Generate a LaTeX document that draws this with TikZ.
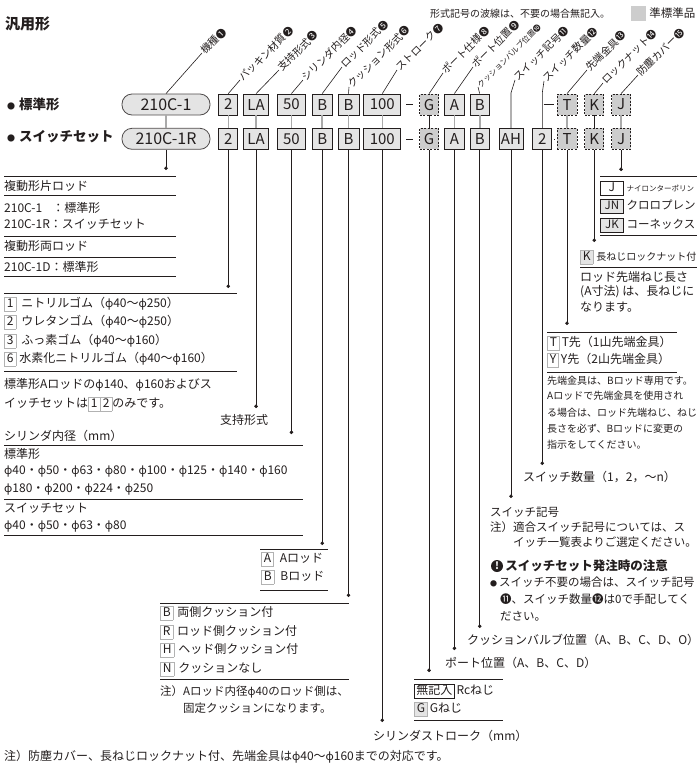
\documentclass[tikz,border=0pt]{standalone}
\usepackage{fontspec}
\setmainfont{Noto Sans CJK JP}
\newfontfamily\phifont{Noto Sans}[Scale=0.95]
\definecolor{InkColor}{RGB}{35,30,30}
\definecolor{BoxFill}{RGB}{228,228,228}
\definecolor{SemiFill}{RGB}{205,205,205}
\definecolor{LinkGray}{RGB}{170,170,170}
\usetikzlibrary{positioning, arrows.meta}
\newcommand\fsz[1]{\fontsize{#1}{#1}\selectfont}
\newcommand\dia{{\phifont φ}}
\setlength\fboxsep{0.6pt}
\setlength\fboxrule{0.6pt}
\newcommand\kbox[1]{\fcolorbox{gray!60}{white}{\vrule width0pt height10pt depth2.5pt\hspace{1.5pt}#1\hspace{1.5pt}}}
\newcommand\kboxg[1]{\fcolorbox{gray!60}{BoxFill}{\vrule width0pt height10pt depth2.5pt\hspace{1.5pt}#1\hspace{1.5pt}}}
\newcommand\jbox[2]{\fcolorbox{InkColor}{#1}{\vrule width0pt height10pt depth2.5pt\makebox[21pt]{#2}}}

\begin{document}
\begin{tikzpicture}[x=1pt, y=-1pt, node distance=5pt,
  codebox/.style={draw=InkColor, fill=BoxFill, line width=0.8pt, minimum height=21pt, inner sep=0pt, text=InkColor, font=\fsz{15}},
  semibox/.style={codebox, fill=SemiFill, dash pattern=on 2pt off 1.5pt},
  pillbox/.style={codebox, draw=InkColor!80, rounded corners=10pt, minimum width=88pt, font=\fsz{16}},
  headlbl/.style={rotate=45, anchor=west, inner sep=1pt, text=InkColor, font=\fsz{10.3}},
  rowlbl/.style={anchor=west, inner sep=0pt, text=InkColor, font=\bfseries\fsz{13.5}},
  leader/.style={draw=InkColor, line width=0.6pt},
  link/.style={draw=LinkGray, line width=1.6pt},
  darklink/.style={draw=InkColor, line width=0.8pt},
  drop/.style={draw=InkColor, line width=0.7pt, -{Circle[length=3.5pt]}},
  desc/.style={anchor=west, inner sep=0pt, text=InkColor, font=\fsz{12}},
  rule/.style={draw=InkColor, line width=0.6pt}]
\useasboundingbox (0,0) rectangle (700,780);

% heading and legend
\node[desc, font=\bfseries\fsz{15}] (title) at (5,24) {汎用形};
\node[desc, font=\fsz{10}] (legnote) at (430,14) {形式記号の波線は、不要の場合無記入。};
\node[fill=SemiFill, minimum size=15pt, inner sep=0pt] (legsq) at (638.5,13) {};
\node[desc, font=\fsz{11.5}, right=3pt of legsq] (legtxt) {準標準品};
\node[rowlbl] (rowstd) at (7,104) {{\fsz{8}●}\hspace{4pt}標準形};
\node[rowlbl] (rowsw) at (7,137) {{\fsz{8}●}\hspace{4pt}スイッチセット};

% row 1
\node[pillbox] (r1type) at (166,104.5) {210C-1};
\node[codebox, minimum width=19pt, right=8pt of r1type] (r1pack) {2};
\node[codebox, minimum width=25pt, right=5pt of r1pack] (r1mount) {LA};
\node[codebox, minimum width=28pt, right=8pt of r1mount] (r1bore) {50};
\node[codebox, minimum width=20pt, right=6pt of r1bore] (r1rod) {B};
\node[codebox, minimum width=21pt, right=5pt of r1rod] (r1cush) {B};
\node[codebox, minimum width=37pt, right=4pt of r1cush] (r1stroke) {100};
\node[semibox, minimum width=19pt, right=18pt of r1stroke] (r1port) {G};
\node[codebox, minimum width=20pt, right=5pt of r1port] (r1ppos) {A};
\node[codebox, minimum width=19pt, right=5pt of r1ppos] (r1valve) {B};
\node[semibox, minimum width=20pt] (r1tip) at (567,104.5) {T};
\node[semibox, minimum width=19pt, right=7pt of r1tip] (r1nut) {K};
\node[semibox, minimum width=19pt, right=7pt of r1nut] (r1cover) {J};

% row 2
\node[pillbox, below=12.5pt of r1type] (r2type) {210C-1R};
\node[codebox, minimum width=19pt, below=12.5pt of r1pack] (r2pack) {2};
\node[codebox, minimum width=25pt, below=12.5pt of r1mount] (r2mount) {LA};
\node[codebox, minimum width=28pt, below=12.5pt of r1bore] (r2bore) {50};
\node[codebox, minimum width=20pt, below=12.5pt of r1rod] (r2rod) {B};
\node[codebox, minimum width=21pt, below=12.5pt of r1cush] (r2cush) {B};
\node[codebox, minimum width=37pt, below=12.5pt of r1stroke] (r2stroke) {100};
\node[semibox, minimum width=19pt, below=12.5pt of r1port] (r2port) {G};
\node[codebox, minimum width=20pt, below=12.5pt of r1ppos] (r2ppos) {A};
\node[codebox, minimum width=19pt, below=12.5pt of r1valve] (r2valve) {B};
\node[codebox, minimum width=24pt, right=9pt of r2valve] (r2sw) {AH};
\node[codebox, minimum width=19pt, right=9pt of r2sw] (r2qty) {2};
\node[semibox, minimum width=20pt, below=12.5pt of r1tip] (r2tip) {T};
\node[semibox, minimum width=19pt, below=12.5pt of r1nut] (r2nut) {K};
\node[semibox, minimum width=19pt, below=12.5pt of r1cover] (r2cover) {J};

% links between the two rows
\draw[link] (r1type.south) -- (r2type.north);
\draw[link] (r1pack.south) -- (r2pack.north);
\draw[link] (r1mount.south) -- (r2mount.north);
\draw[link] (r1bore.south) -- (r2bore.north);
\draw[link] (r1rod.south) -- (r2rod.north);
\draw[link] (r1cush.south) -- (r2cush.north);
\draw[link] (r1stroke.south) -- (r2stroke.north);
\draw[darklink] (r1port.south) -- (r2port.north);
\draw[link] (r1ppos.south) -- (r2ppos.north);
\draw[link] (r1valve.south) -- (r2valve.north);
\draw[link] (r1tip.south) -- (r2tip.north);
\draw[darklink] (r1nut.south) -- (r2nut.north);
\draw[link] (r1cover.south) -- (r2cover.north);

% short dashes
\draw[leader, shorten <=5pt, shorten >=6pt] (r1stroke) -- (r1port);
\draw[leader, shorten <=5pt, shorten >=6pt] (r2stroke) -- (r2port);
\coordinate (tipstub) at ([xshift=-13pt]r1tip.west);
\draw[leader, shorten >=3pt] (tipstub) -- (r1tip);
\draw[leader, shorten <=2pt, shorten >=3pt] (r2qty) -- (r2tip);

% slanted headings
\node[headlbl] (htype) at (202,53) {機種❶};
\node[headlbl] (hpack) at (240,80) {パッキン材質❷};
\node[headlbl] (hmount) at (279,70) {支持形式❸};
\node[headlbl] (hbore) at (303,80) {シリンダ内径❹};
\node[headlbl] (hrod) at (342,67) {ロッド形式❺};
\node[headlbl] (hcush) at (349,87) {クッション形式❻};
\node[headlbl] (hstroke) at (397,70) {ストローク❼};
\node[headlbl] (hport) at (443,73) {ポート仕様❽};
\node[headlbl] (hppos) at (473,67) {ポート位置❾};
\node[headlbl, font=\fsz{7.8}] (hvalve) at (478,87) {クッションバルブ位置❿};
\node[headlbl] (hsw) at (515,80) {スイッチ記号⓫};
\node[headlbl] (hqty) at (544,81) {スイッチ数量⓬};
\node[headlbl] (htip) at (587,70) {先端金具⓭};
\node[headlbl] (hnut) at (603,83) {ロックナット⓮};
\node[headlbl] (hcover) at (638,75) {防塵カバー⓯};

\draw[leader] (r1type.north) -- (htype.west);
\draw[leader] (r1pack.north) -- (hpack.west);
\draw[leader] (r1mount.north) -- (hmount.west);
\draw[leader] (r1bore.north) -- (hbore.west);
\draw[leader] (r1rod.north) -- (hrod.west);
\draw[leader] (r1cush.north) -- (hcush.west);
\draw[leader] (r1stroke.north) -- (hstroke.west);
\draw[leader] (r1port.north) -- (hport.west);
\draw[leader] (r1ppos.north) -- (hppos.west);
\draw[leader] (r1valve.north) -- (hvalve.west);
\draw[leader] (r2sw.north) -- ++(0,-35) -- (hsw.west);
\draw[leader] (r2qty.north) -- ++(0,-35) -- (hqty.west);
\draw[leader] (r1tip.north) -- (htip.west);
\draw[leader] (r1nut.north) -- (hnut.west);
\draw[leader] (r1cover.north) -- (hcover.west);

% drop lines to the explanations
\coordinate (dtype) at (r2type.south |- 0,170);
\coordinate (dpack) at (r2pack.south |- 0,288);
\coordinate (dmount) at (r2mount.south |- 0,408);
\coordinate (dbore) at (r2bore.south |- 0,434);
\coordinate (drod) at (r2rod.south |- 0,545);
\coordinate (dcush) at (r2cush.south |- 0,597);
\coordinate (dstroke) at (r2stroke.south |- 0,722);
\coordinate (dport) at (r2port.south |- 0,672);
\coordinate (dppos) at (r2ppos.south |- 0,650);
\coordinate (dvalve) at (r2valve.south |- 0,628);
\coordinate (dsw) at (r2sw.south |- 0,498);
\coordinate (dqty) at (r2qty.south |- 0,465);
\coordinate (dtip) at (r2tip.south |- 0,325);
\coordinate (dnut) at (r2nut.south |- 0,242);
\coordinate (dcover) at (r2cover.south |- 0,171);
\draw[drop] (r2type.south) -- (dtype);
\draw[drop] (r2pack.south) -- (dpack);
\draw[drop] (r2mount.south) -- (dmount);
\draw[drop] (r2bore.south) -- (dbore);
\draw[drop] (r2rod.south) -- (drod);
\draw[drop] (r2cush.south) -- (dcush);
\draw[drop] (r2stroke.south) -- (dstroke);
\draw[drop] (r2port.south) -- (dport);
\draw[drop] (r2ppos.south) -- (dppos);
\draw[drop] (r2valve.south) -- (dvalve);
\draw[drop] (r2sw.south) -- (dsw);
\draw[drop] (r2qty.south) -- (dqty);
\draw[drop] (r2tip.south) -- (dtip);
\draw[drop] (r2nut.south) -- (dnut);
\draw[drop] (r2cover.south) -- (dcover);

% model
\draw[rule] (4,176) -- (176,176);
\node[desc] (tyh1) at (4,186) {複動形片ロッド};
\draw[rule] (4,195) -- (176,195);
\node[desc] (ty1) at (4,208) {210C-1\hspace{10pt}：標準形};
\node[desc] (ty2) at (4,224) {210C-1R：スイッチセット};
\draw[rule] (4,236) -- (176,236);
\node[desc] (tyh2) at (4,246) {複動形両ロッド};
\draw[rule] (4,257) -- (176,257);
\node[desc] (ty3) at (4,267) {210C-1D：標準形};
\draw[rule] (4,276) -- (176,276);

% packing
\draw[rule] (4,293) -- (237,293);
\node[desc] (pk1) at (4,304) {\kbox{1}\hspace{5pt}ニトリルゴム（\dia40〜\dia250）};
\node[desc] (pk2) at (4,322) {\kbox{2}\hspace{5pt}ウレタンゴム（\dia40〜\dia250）};
\node[desc] (pk3) at (4,341) {\kbox{3}\hspace{5pt}ふっ素ゴム（\dia40〜\dia160）};
\node[desc] (pk6) at (4,359) {\kbox{6}\hspace{3pt}水素化ニトリルゴム（\dia40〜\dia160）};
\draw[rule] (4,371) -- (237,371);
\node[desc] (pkn1) at (4,385) {標準形Aロッドの\dia140、\dia160およびス};
\node[desc] (pkn2) at (4,404) {イッチセットは\kbox{1}\kbox{2}のみです。};

% mounting
\node[desc, anchor=center] (mnt) at (244,420) {支持形式};

% bore
\node[desc] (boh) at (4,436) {シリンダ内径（mm）};
\draw[rule] (4,445) -- (303,445);
\node[desc] (bo1) at (4,454) {標準形};
\node[desc] (bo2) at (4,472) {\dia40・\dia50・\dia63・\dia80・\dia100・\dia125・\dia140・\dia160};
\node[desc] (bo3) at (4,490) {\dia180・\dia200・\dia224・\dia250};
\draw[rule] (4,499) -- (303,499);
\node[desc] (bo4) at (4,508) {スイッチセット};
\node[desc] (bo5) at (4,527) {\dia40・\dia50・\dia63・\dia80};
\draw[rule] (4,535) -- (303,535);

% rod
\draw[rule] (260,549) -- (328,549);
\node[desc] (rd1) at (261,559) {\kbox{A}\hspace{6pt}Aロッド};
\node[desc] (rd2) at (261,577) {\kbox{B}\hspace{6pt}Bロッド};
\draw[rule] (260,590) -- (328,590);

% cushion
\draw[rule] (160,603) -- (349,603);
\node[desc] (cu1) at (160,613) {\kbox{B}\hspace{4pt}両側クッション付};
\node[desc] (cu2) at (160,632) {\kbox{R}\hspace{4pt}ロッド側クッション付};
\node[desc] (cu3) at (160,650) {\kbox{H}\hspace{4pt}ヘッド側クッション付};
\node[desc] (cu4) at (160,669) {\kbox{N}\hspace{4pt}クッションなし};
\draw[rule] (160,679) -- (349,679);
\node[desc, font=\fsz{11.5}] (cun1) at (160,692) {注）Aロッド内径\dia40のロッド側は、};
\node[desc, font=\fsz{11.5}] (cun2) at (183,708) {固定クッションになります。};

% stroke and footnote
\node[desc] (stk) at (373,736) {シリンダストローク（mm）};
\node[desc] (foot) at (4,757) {注）防塵カバー、長ねじロックナット付、先端金具は\dia40〜\dia160までの対応です。};

% port
\draw[rule] (414,679) -- (503,679);
\node[desc] (pt1) at (414,691) {\fcolorbox{InkColor}{white}{\vrule width0pt height10pt depth2.5pt\hspace{1pt}無記入\hspace{1pt}}\hspace{2pt}Rcねじ};
\node[desc] (pt2) at (414,709) {\kboxg{G}\hspace{2pt}Gねじ};
\draw[rule] (414,720) -- (503,720);
\node[desc] (pp) at (445,663) {ポート位置（A、B、C、D）};
\node[desc] (vv) at (467,640) {クッションバルブ位置（A、B、C、D、O）};

% switch
\node[desc, font=\fsz{11.5}] (sw1) at (490,512) {スイッチ記号};
\node[desc, font=\fsz{11.5}] (sw2) at (490,527) {注）適合スイッチ記号については、ス};
\node[desc, font=\fsz{11.5}] (sw3) at (513,542) {イッチ一覧表よりご選定ください。};
\node[circle, fill=InkColor, text=white, inner sep=0pt, minimum size=12pt, font=\bfseries\fsz{10}] (warn) at (497,566) {!};
\node[desc, font=\bfseries\fsz{12.5}, right=2pt of warn] (warnh) {スイッチセット発注時の注意};
\node[desc, font=\fsz{11.5}] (wn1) at (490,582) {{\fsz{7}●}\hspace{2pt}スイッチ不要の場合は、スイッチ記号};
\node[desc, font=\fsz{11.5}] (wn2) at (500,599) {⓫、スイッチ数量⓬は0で手配してく};
\node[desc, font=\fsz{11.5}] (wn3) at (500,616) {ださい。};
\node[desc] (qt) at (523,477) {スイッチ数量（1，2，〜n）};

% rod end
\draw[rule] (547,332) -- (677,332);
\node[desc] (tp1) at (547,343) {\kbox{T}\hspace{2pt}T先（1山先端金具）};
\node[desc] (tp2) at (547,360) {\kbox{Y}\hspace{2pt}Y先（2山先端金具）};
\draw[rule] (547,372) -- (677,372);
\node[desc, font=\fsz{10}] (tpn1) at (547,381) {先端金具は、Bロッド専用です。};
\node[desc, font=\fsz{10}] (tpn2) at (547,396) {Aロッドで先端金具を使用され};
\node[desc, font=\fsz{10}] (tpn3) at (547,413) {る場合は、ロッド先端ねじ、ねじ};
\node[desc, font=\fsz{10}] (tpn4) at (547,429) {長さを必ず、Bロッドに変更の};
\node[desc, font=\fsz{10}] (tpn5) at (547,445) {指示をしてください。};

% lock nut
\node[desc] (nt1) at (580,257) {\kboxg{K}\hspace{3pt}{\fsz{10}長ねじロックナット付}};
\draw[rule] (580,267) -- (697,267);
\node[desc] (ntn1) at (580,277) {ロッド先端ねじ長さ};
\node[desc] (ntn2) at (580,292) {(A寸法) は、長ねじに};
\node[desc] (ntn3) at (580,307) {なります。};

% cover
\draw[rule] (600,176) -- (697,176);
\node[desc] (cv1) at (600,188) {\jbox{white}{J}\hspace{3pt}{\fsz{7.5}ナイロンターポリン}};
\node[desc, font=\fsz{11.5}] (cv2) at (600,206) {\jbox{BoxFill}{JN}\hspace{3pt}クロロプレン};
\node[desc, font=\fsz{11.5}] (cv3) at (600,225) {\jbox{BoxFill}{JK}\hspace{3pt}コーネックス};
\draw[rule] (600,235) -- (697,235);
\end{tikzpicture}
\end{document}
